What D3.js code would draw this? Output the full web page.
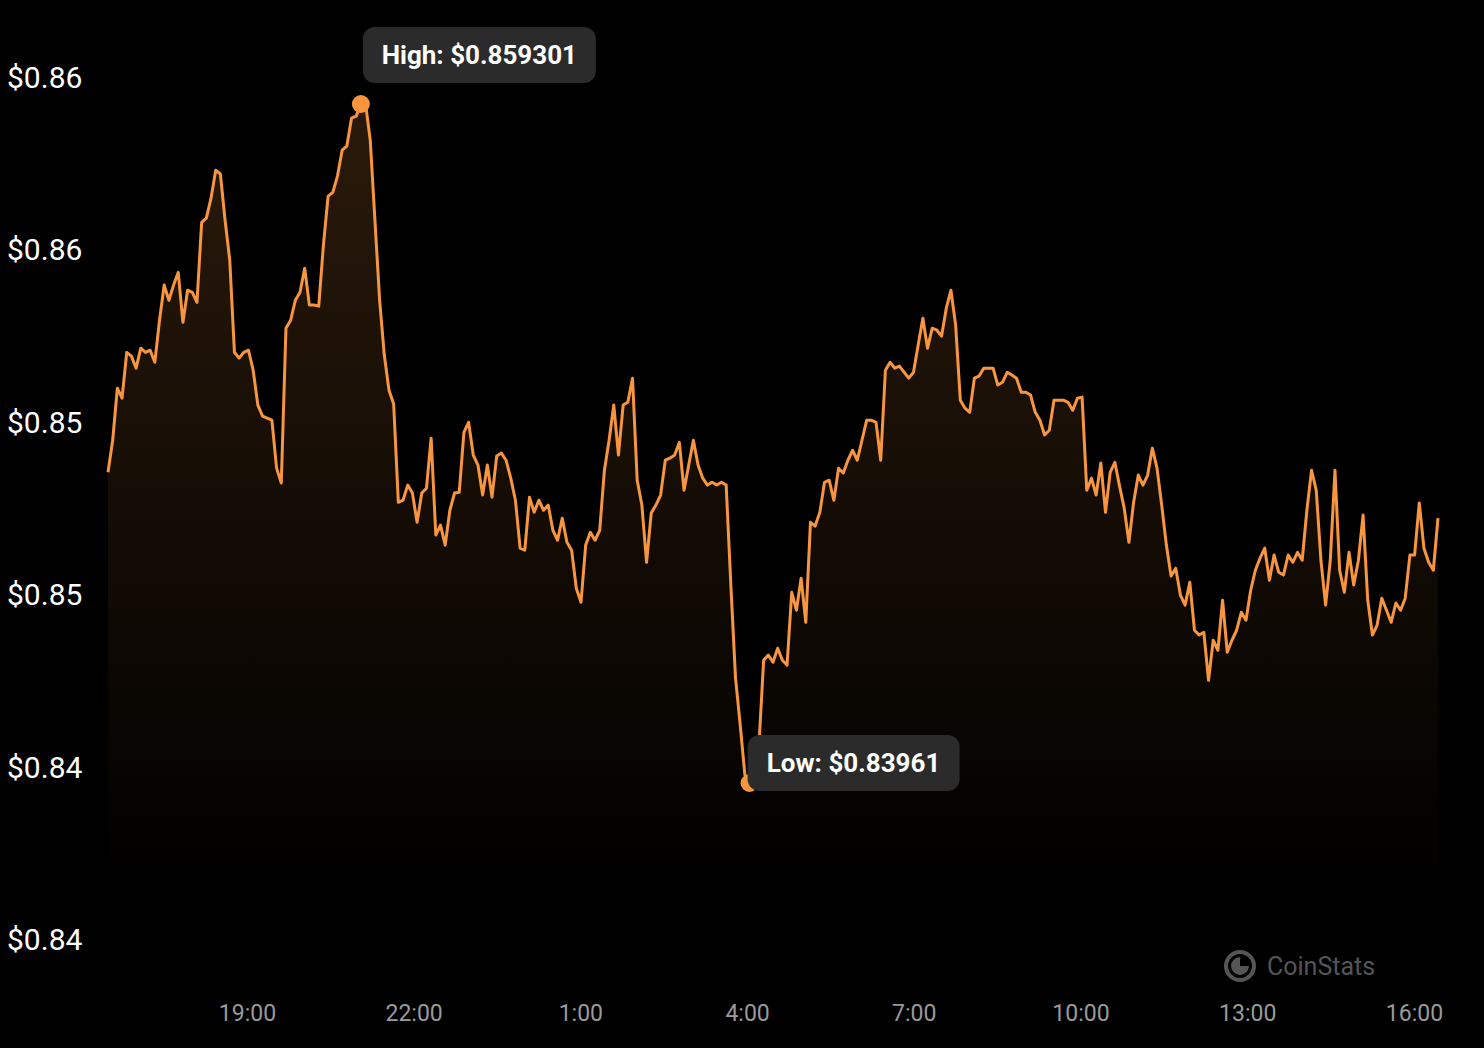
<!DOCTYPE html>
<html>
<head>
<meta charset="utf-8">
<script src="https://cdn.jsdelivr.net/npm/d3@7"></script>
<style>
  html, body { margin: 0; padding: 0; background: #000; }
  svg { display: block; font-family: Roboto, "Noto Sans", sans-serif; }
</style>
</head>
<body>
<div id="svg-container"></div>
<script>
// data
const prices = [
  0.84862, 0.84955, 0.85106, 0.85077, 0.85210, 0.85199, 0.85164, 0.85222, 0.85210, 0.85216,
  0.85181, 0.85303, 0.85405, 0.85361, 0.85405, 0.85442, 0.85297, 0.85390, 0.85384, 0.85355,
  0.85587, 0.85599, 0.85657, 0.85738, 0.85727, 0.85593, 0.85477, 0.85210, 0.85193, 0.85210,
  0.85216, 0.85158, 0.85057, 0.85025, 0.85019, 0.85013, 0.84874, 0.84831, 0.85280, 0.85303,
  0.85361, 0.85384, 0.85454, 0.85347, 0.85347, 0.85344, 0.85521, 0.85663, 0.85674, 0.85721,
  0.85796, 0.85808, 0.85889, 0.85895, 0.859301, 0.859301, 0.85825, 0.85593, 0.85361, 0.85202,
  0.85100, 0.85060, 0.84775, 0.84781, 0.84825, 0.84802, 0.84717, 0.84802, 0.84816, 0.84961,
  0.84680, 0.84709, 0.84651, 0.84752, 0.84802, 0.84804, 0.84978, 0.85007, 0.84912, 0.84883,
  0.84796, 0.84883, 0.84790, 0.84909, 0.84918, 0.84897, 0.84845, 0.84781, 0.84642, 0.84636,
  0.84790, 0.84746, 0.84781, 0.84752, 0.84767, 0.84694, 0.84665, 0.84729, 0.84659, 0.84636,
  0.84526, 0.84485, 0.84651, 0.84688, 0.84665, 0.84694, 0.84868, 0.84955, 0.85057, 0.84912,
  0.85057, 0.85065, 0.85135, 0.84839, 0.84767, 0.84601, 0.84744, 0.84767, 0.84796, 0.84897,
  0.84903, 0.84912, 0.84949, 0.84810, 0.84883, 0.84955, 0.84883, 0.84845, 0.84825, 0.84833,
  0.84825, 0.84833, 0.84825, 0.84535, 0.84265, 0.84129, 0.83984, 0.83961, 0.83998, 0.84071,
  0.84317, 0.84332, 0.84311, 0.84352, 0.84317, 0.84303, 0.84514, 0.84462, 0.84555, 0.84427,
  0.84717, 0.84706, 0.84746, 0.84833, 0.84839, 0.84781, 0.84874, 0.84860, 0.84897, 0.84926,
  0.84897, 0.84955, 0.85013, 0.85013, 0.85007, 0.84897, 0.85158, 0.85181, 0.85164, 0.85170,
  0.85152, 0.85135, 0.85152, 0.85231, 0.85309, 0.85222, 0.85280, 0.85274, 0.85257, 0.85338,
  0.85390, 0.85289, 0.85071, 0.85048, 0.85036, 0.85135, 0.85141, 0.85164, 0.85164, 0.85164,
  0.85115, 0.85123, 0.85152, 0.85144, 0.85135, 0.85094, 0.85094, 0.85086, 0.85036, 0.85013,
  0.84970, 0.84984, 0.85071, 0.85071, 0.85071, 0.85065, 0.85042, 0.85077, 0.85080, 0.84810,
  0.84845, 0.84796, 0.84889, 0.84746, 0.84862, 0.84891, 0.84822, 0.84758, 0.84659, 0.84775,
  0.84854, 0.84825, 0.84854, 0.84932, 0.84874, 0.84767, 0.84651, 0.84561, 0.84584, 0.84506,
  0.84477, 0.84543, 0.84404, 0.84390, 0.84398, 0.84259, 0.84375, 0.84346, 0.84491, 0.84340,
  0.84375, 0.84404, 0.84456, 0.84433, 0.84520, 0.84578, 0.84613, 0.84642, 0.84549, 0.84622,
  0.84572, 0.84564, 0.84622, 0.84601, 0.84630, 0.84607, 0.84752, 0.84868, 0.84810, 0.84607,
  0.84477, 0.84607, 0.84868, 0.84578, 0.84514, 0.84630, 0.84535, 0.84607, 0.84738, 0.84491,
  0.84390, 0.84419, 0.84497, 0.84462, 0.84427, 0.84483, 0.84462, 0.84497, 0.84622, 0.84622,
  0.84773, 0.84642, 0.84601, 0.84578, 0.84729
];
const startTime = new Date(2024, 0, 1, 16, 30);
const endTime = new Date(2024, 0, 2, 16, 26);
const xTicks = [
  new Date(2024, 0, 1, 19), new Date(2024, 0, 1, 22), new Date(2024, 0, 2, 1), new Date(2024, 0, 2, 4),
  new Date(2024, 0, 2, 7), new Date(2024, 0, 2, 10), new Date(2024, 0, 2, 13), new Date(2024, 0, 2, 16)
];
const yTicks = [0.86, 0.855, 0.85, 0.845, 0.84, 0.835];
const yTickLabels = ["$0.86", "$0.86", "$0.85", "$0.85", "$0.84", "$0.84"];
const highValue = 0.859301;
const lowValue = 0.83961;

const width = 1484, height = 1048;
const svg = d3.select("#svg-container").append("svg").attr("width", width).attr("height", height);

const step = (endTime - startTime) / (prices.length - 1);
const data = prices.map((p, i) => ({ date: new Date(+startTime + i * step), price: p }));

const xScale = d3.scaleTime().domain([startTime, endTime]).range([108, 1438]);
const yScale = d3.scaleLinear().domain([lowValue, highValue]).range([783, 104]);

// gradient
const defs = svg.append("defs");
const grad = defs.append("linearGradient").attr("id", "fade").attr("x1", 0).attr("y1", 0).attr("x2", 0).attr("y2", 1);
grad.append("stop").attr("offset", "0%").attr("stop-color", "#f7963e").attr("stop-opacity", 0.17);
grad.append("stop").attr("offset", "100%").attr("stop-color", "#f7963e").attr("stop-opacity", 0);

const area = d3.area().x((d) => xScale(d.date)).y0(895).y1((d) => yScale(d.price));
const line = d3.line().x((d) => xScale(d.date)).y((d) => yScale(d.price));

svg.append("path").datum(data).attr("fill", "url(#fade)").attr("d", area);
svg.append("path").datum(data).attr("fill", "none").attr("stroke", "#f7963e")
  .attr("stroke-width", 3).attr("stroke-linejoin", "round").attr("d", line);

// y axis
const yAxis = d3.axisRight(yScale).tickValues(yTicks).tickSize(0)
  .tickFormat((d, i) => yTickLabels[i]);
svg.append("g").attr("transform", "translate(0,-3)").call(yAxis)
  .call((g) => g.select(".domain").remove())
  .call((g) => g.selectAll("text").attr("x", 7).attr("fill", "#fff").style("font-size", "30px")
    .style("font-family", "Roboto").attr("dy", "0.35em"));

// x axis
const xAxis = d3.axisBottom(xScale).tickValues(xTicks).tickSize(0).tickFormat(d3.timeFormat("%-H:%M"));
svg.append("g").attr("transform", "translate(0,1002)").call(xAxis)
  .call((g) => g.select(".domain").remove())
  .call((g) => g.selectAll("text").attr("fill", "#9a9a9a").style("font-size", "23px")
    .style("font-family", "Roboto").attr("dy", "0.7em"));

// high / low markers
const hi = data[d3.maxIndex(data, (d) => d.price)];
const lo = data[d3.minIndex(data, (d) => d.price)];

const marker = (d, text, dx, dy, w) => {
  const cx = xScale(d.date), cy = yScale(d.price);
  svg.append("circle").attr("cx", cx).attr("cy", cy).attr("r", 9).attr("fill", "#f7963e");
  const g = svg.append("g").attr("transform", `translate(${cx + dx},${cy + dy})`);
  g.append("rect").attr("width", w).attr("height", 56).attr("rx", 12).attr("fill", "#2b2b2b");
  g.append("text").attr("x", w / 2).attr("y", 28).attr("dy", "0.35em").attr("text-anchor", "middle")
    .attr("fill", "#fff").style("font-size", "26px").style("font-weight", "bold").text(text);
};
marker(hi, "High: $0.859301", 2, -77, 233);
marker(lo, "Low: $0.83961", -2, -48, 212);

// watermark
const wm = svg.append("g").attr("transform", "translate(1240,966)");
wm.append("circle").attr("r", 14).attr("fill", "none").attr("stroke", "#555").attr("stroke-width", 4);
wm.append("path").attr("d", d3.arc()({ innerRadius: 0, outerRadius: 9, startAngle: Math.PI * 0.5, endAngle: Math.PI * 2 })).attr("fill", "#555");
wm.append("text").attr("x", 27).attr("y", 0).attr("dy", "0.35em").attr("fill", "#555")
  .style("font-size", "25px").text("CoinStats");
</script>
</body>
</html>
